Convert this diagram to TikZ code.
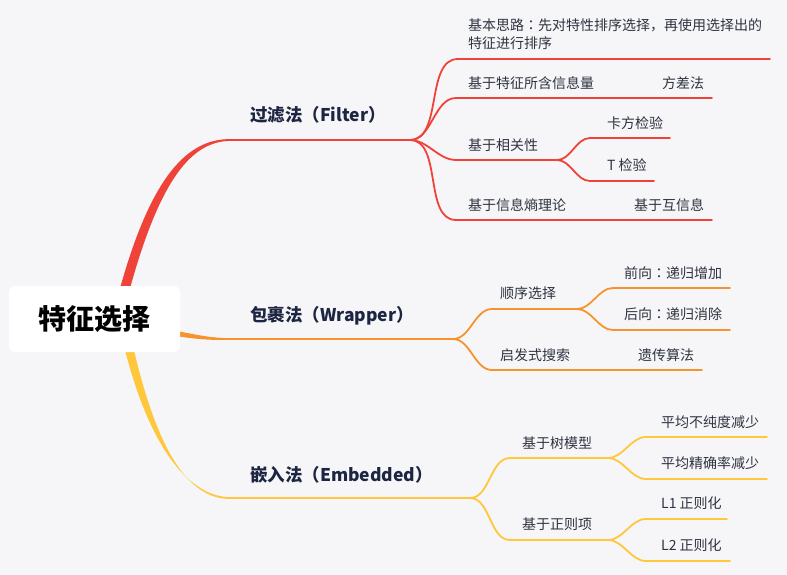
\documentclass[tikz,border=0pt]{standalone}
\usepackage{fontspec}
\setmainfont{Noto Sans CJK SC}
\newfontfamily\tcfont{Noto Sans CJK TC}
\newcommand{\ccolon}{{\tcfont ：}}
\definecolor{bgc}{RGB}{246,246,248}
\definecolor{cred}{RGB}{239,66,56}
\definecolor{corange}{RGB}{247,147,47}
\definecolor{cyellow}{RGB}{255,199,59}
\definecolor{maintext}{RGB}{28,37,65}
\definecolor{subtext}{RGB}{46,51,64}
\begin{document}
\begin{tikzpicture}[x=1pt,y=-1pt,
  lbl/.style={anchor=west, inner sep=0pt, font=\fontsize{14}{18}\selectfont, text=subtext},
  mainlbl/.style={anchor=west, inner sep=0pt, font=\fontsize{17.5}{20}\selectfont\bfseries, text=maintext},
  rootbox/.style={fill=white, rounded corners=6pt, minimum width=171pt, minimum height=66pt, inner sep=0pt, font=\fontsize{28}{32}\selectfont\bfseries, text=black},
  conn/.style={line width=1.8pt, line cap=round},
  redl/.style={conn, draw=cred},
  orl/.style={conn, draw=corange},
  yell/.style={conn, draw=cyellow},
  sc/.style={out=0, in=180, looseness=0.9}
]
\fill[bgc] (0,0) rectangle (787,575);
\useasboundingbox (0,0) rectangle (787,575);

% ---------- coordinates ----------
\coordinate (rA) at (230,140); \coordinate (rF) at (410,140);
\coordinate (oA) at (230,339); \coordinate (oF) at (453,339);
\coordinate (yA) at (230,498); \coordinate (yF) at (470,498);

% red children
\coordinate (r1s) at (458,59);  \coordinate (r1e) at (770,59);
\coordinate (r2s) at (456,98);  \coordinate (r2e) at (712,98);
\coordinate (r3s) at (456,160); \coordinate (r3f) at (557,160);
\coordinate (r31s) at (590,138); \coordinate (r31e) at (670,138);
\coordinate (r32s) at (590,181); \coordinate (r32e) at (654,181);
\coordinate (r4s) at (456,220); \coordinate (r4e) at (712,220);
% orange children
\coordinate (o1s) at (492,309); \coordinate (o1f) at (577,309);
\coordinate (o11s) at (613,288); \coordinate (o11e) at (730,288);
\coordinate (o12s) at (613,330); \coordinate (o12e) at (730,330);
\coordinate (o2s) at (492,370); \coordinate (o2e) at (702,370);
% yellow children
\coordinate (y1s) at (510,458); \coordinate (y1f) at (608,458);
\coordinate (y11s) at (646,437); \coordinate (y11e) at (767,437);
\coordinate (y12s) at (646,479); \coordinate (y12e) at (767,479);
\coordinate (y2s) at (510,540); \coordinate (y2f) at (608,540);
\coordinate (y21s) at (646,519); \coordinate (y21e) at (727,519);
\coordinate (y22s) at (646,561); \coordinate (y22e) at (730,561);

% ---------- tapered main branches ----------
\fill[cred] (119,292) .. controls (151,175) and (188,138.9) .. (230,139.1)
  -- (230,140.9) .. controls (192,141.5) and (160,178) .. (129,292) -- cycle;
\fill[corange] (172,330) .. controls (200,335.5) and (212,338.1) .. (230,338.1)
  -- (230,339.9) .. controls (210,340.2) and (198,339.5) .. (172,335.5) -- cycle;
\fill[cyellow] (124,346) .. controls (151,455) and (193,497.1) .. (230,497.1)
  -- (230,498.9) .. controls (190,499) and (158,455) .. (133,346) -- cycle;

\draw[redl] (rA) -- (rF);
\draw[orl] (oA) -- (oF);
\draw[yell] (yA) -- (yF);

% ---------- red sub-branches ----------
\draw[redl] (rF) to[sc] (r1s) -- (r1e);
\draw[redl] (rF) to[sc] (r2s) -- (r2e);
\draw[redl] (rF) to[sc] (r3s) -- (r3f);
\draw[redl] (r3f) to[sc] (r31s) -- (r31e);
\draw[redl] (r3f) to[sc] (r32s) -- (r32e);
\draw[redl] (rF) to[sc] (r4s) -- (r4e);

% ---------- orange sub-branches ----------
\draw[orl] (oF) to[sc] (o1s) -- (o1f);
\draw[orl] (o1f) to[sc] (o11s) -- (o11e);
\draw[orl] (o1f) to[sc] (o12s) -- (o12e);
\draw[orl] (oF) to[sc] (o2s) -- (o2e);

% ---------- yellow sub-branches ----------
\draw[yell] (yF) to[sc] (y1s) -- (y1f);
\draw[yell] (y1f) to[sc] (y11s) -- (y11e);
\draw[yell] (y1f) to[sc] (y12s) -- (y12e);
\draw[yell] (yF) to[sc] (y2s) -- (y2f);
\draw[yell] (y2f) to[sc] (y21s) -- (y21e);
\draw[yell] (y2f) to[sc] (y22s) -- (y22e);

% ---------- root ----------
\node[rootbox] (root) at (94.5,319) {特征选择};

% ---------- main labels ----------
\node[mainlbl] (filter) at (250,115) {过滤法（Filter）};
\node[mainlbl] (wrapper) at (250,316) {包裹法（Wrapper）};
\node[mainlbl] (embedded) at (250,475) {嵌入法（Embedded）};

% ---------- red labels ----------
\node[lbl, align=left] (t1) at (468,34) {基本思路\ccolon 先对特性排序选择，再使用选择出的\\特征进行排序};
\node[lbl] (t2) at (468,83) {基于特征所含信息量};
\node[lbl] (t2a) at (662,83) {方差法};
\node[lbl] (t3) at (468,145) {基于相关性};
\node[lbl] (t31) at (607,123) {卡方检验};
\node[lbl] (t32) at (607,165) {T 检验};
\node[lbl] (t4) at (468,205) {基于信息熵理论};
\node[lbl] (t4a) at (634,205) {基于互信息};

% ---------- orange labels ----------
\node[lbl] (w1) at (500,293) {顺序选择};
\node[lbl] (w11) at (624,273) {前向\ccolon 递归增加};
\node[lbl] (w12) at (624,314) {后向\ccolon 递归消除};
\node[lbl] (w2) at (500,355) {启发式搜索};
\node[lbl] (w2a) at (638,355) {遗传算法};

% ---------- yellow labels ----------
\node[lbl] (e1) at (522,443) {基于树模型};
\node[lbl] (e11) at (661,422) {平均不纯度减少};
\node[lbl] (e12) at (661,463) {平均精确率减少};
\node[lbl] (e2) at (522,524) {基于正则项};
\node[lbl] (e21) at (661,503) {L1 正则化};
\node[lbl] (e22) at (661,545) {L2 正则化};
\end{tikzpicture}
\end{document}
